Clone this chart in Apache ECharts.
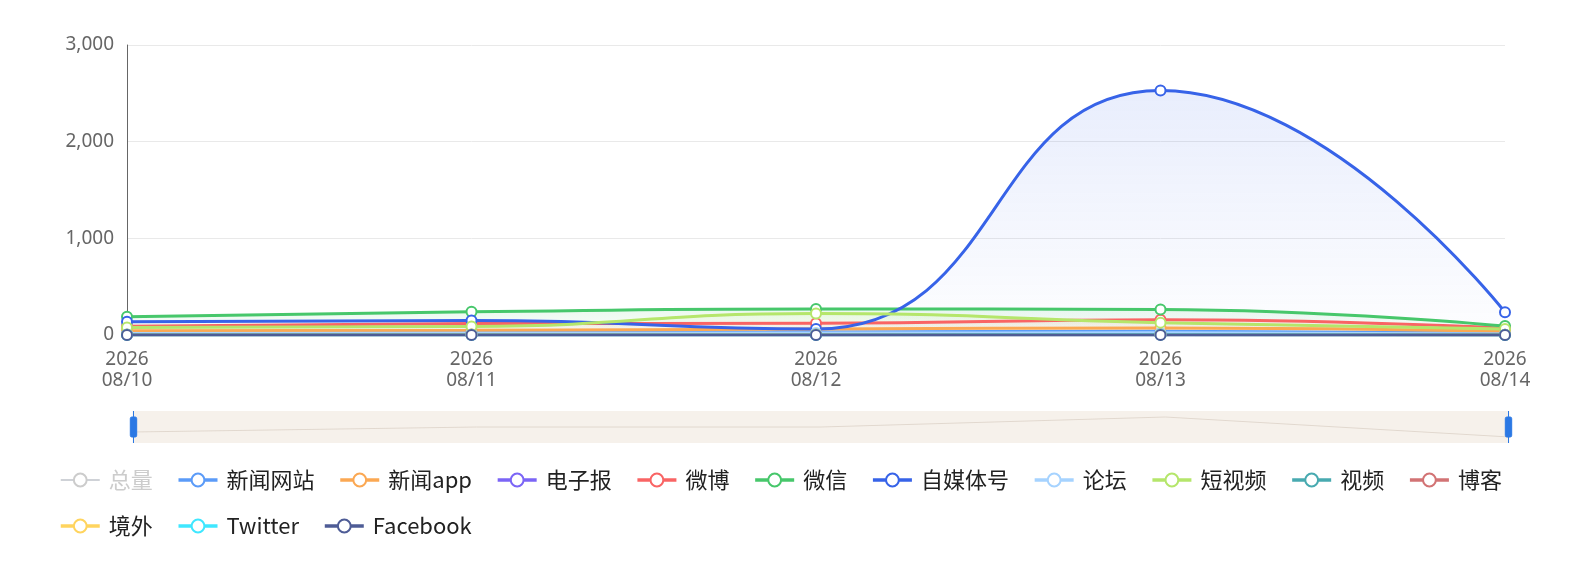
<!DOCTYPE html>
<html>
<head>
<meta charset="utf-8">
<title>trend</title>
<script src="https://cdn.jsdelivr.net/npm/echarts@6/dist/echarts.min.js"></script>
<style>
    html, body {
        margin: 0;
        padding: 0;
        background: #fff;
    }
    #trendChart {
        width: 1582px;
        height: 572px;
    }
</style>
</head>
<body>
<div id="trendChart"></div>
<script>
// x axis dates
const dates = ['2026\n08/10', '2026\n08/11', '2026\n08/12', '2026\n08/13', '2026\n08/14'];

// series values
const totalData = [1150, 1300, 1500, 3300, 500];
const newsSiteData = [25, 30, 30, 40, 20];
const newsAppData = [45, 50, 62, 72, 40];
const epaperData = [5, 6, 5, 8, 3];
const weiboData = [90, 118, 122, 158, 72];
const wechatData = [188, 240, 270, 265, 92];
const selfMediaData = [138, 150, 62, 2530, 235];
const forumData = [15, 18, 20, 22, 10];
const shortVideoData = [78, 88, 222, 128, 62];
const videoData = [4, 5, 6, 6, 3];
const blogData = [2, 3, 3, 4, 2];
const overseasData = [3, 4, 4, 5, 2];
const twitterData = [1, 1, 1, 2, 1];
const facebookData = [0, 0, 0, 0, 0];

const seriesNames = ['总量', '新闻网站', '新闻app', '电子报', '微博', '微信', '自媒体号',
    '论坛', '短视频', '视频', '博客', '境外', 'Twitter', 'Facebook'];
const seriesValues = [totalData, newsSiteData, newsAppData, epaperData, weiboData, wechatData,
    selfMediaData, forumData, shortVideoData, videoData, blogData, overseasData, twitterData, facebookData];
const seriesColors = ['#8c8c8c', '#5b9bf8', '#fba853', '#7b65f6', '#f96464', '#47c76b', '#3763e8',
    '#a6d3ff', '#b5e66b', '#48aab0', '#d27374', '#ffd45e', '#3fe7ff', '#4e5c96'];

function hexToRgba(hex, alpha) {
    const r = parseInt(hex.slice(1, 3), 16);
    const g = parseInt(hex.slice(3, 5), 16);
    const b = parseInt(hex.slice(5, 7), 16);
    return 'rgba(' + r + ',' + g + ',' + b + ',' + alpha + ')';
}

function initChart() {
    let trendChart = echarts.init(document.getElementById('trendChart'));

    let series = seriesNames.map(function (name, i) {
        return {
            name: name,
            type: 'line',
            smooth: true,
            data: seriesValues[i],
            symbol: 'emptyCircle',
            symbolSize: 10,
            lineStyle: {
                width: 3
            },
            itemStyle: {
                color: seriesColors[i],
                borderWidth: 2.5
            },
            areaStyle: {
                color: new echarts.graphic.LinearGradient(0, 0, 0, 1, [
                    {offset: 0, color: hexToRgba(seriesColors[i], 0.16)},
                    {offset: 1, color: hexToRgba(seriesColors[i], 0.01)}
                ])
            }
        };
    });

    let option = {
        color: seriesColors,
        textStyle: {
            fontFamily: '"Noto Sans", "Noto Sans CJK SC", sans-serif'
        },
        grid: {
            left: 127,
            right: 77,
            top: 45,
            bottom: 237
        },
        legend: {
            data: seriesNames,
            selected: {'总量': false},
            left: 54,
            right: 30,
            top: 464,
            itemWidth: 39,
            itemHeight: 16,
            itemGap: 24,
            inactiveColor: '#ccc',
            lineStyle: {
                width: 3.5
            },
            itemStyle: {
                borderWidth: 2.5
            },
            textStyle: {
                fontSize: 22,
                color: '#222',
                padding: [0, 4, 0, 4],
                fontFamily: '"Noto Sans CJK SC", sans-serif'
            }
        },
        dataZoom: [
            {
                type: 'slider',
                xAxisIndex: 0,
                start: 0,
                end: 100,
                left: 130,
                right: 75,
                top: 411,
                height: 32,
                showDetail: false,
                brushSelect: false,
                moveHandleSize: 0,
                borderColor: 'transparent',
                backgroundColor: 'transparent',
                fillerColor: 'rgba(232,220,205,0.4)',
                handleStyle: {
                    color: '#2b78e4',
                    borderColor: '#2b78e4'
                },
                dataBackground: {
                    lineStyle: {color: '#ddd6d0', width: 1},
                    areaStyle: {opacity: 0}
                },
                selectedDataBackground: {
                    lineStyle: {color: '#ddd6d0', width: 1},
                    areaStyle: {opacity: 0}
                }
            }
        ],
        xAxis: {
            type: 'category',
            boundaryGap: false,
            data: dates,
            axisLine: {
                show: false
            },
            axisTick: {
                show: false
            },
            axisLabel: {
                interval: 0,
                color: '#666',
                fontSize: 19,
                lineHeight: 21,
                margin: 14
            }
        },
        yAxis: {
            type: 'value',
            min: 0,
            max: 3000,
            interval: 1000,
            axisLine: {
                show: true,
                lineStyle: {
                    color: '#666'
                }
            },
            axisTick: {
                show: false
            },
            axisLabel: {
                color: '#666',
                fontSize: 19,
                margin: 13
            },
            splitLine: {
                lineStyle: {
                    color: '#e9e9e9'
                }
            }
        },
        series: series
    };
    trendChart.setOption(option);
}

window.onload = initChart;
</script>
</body>
</html>
